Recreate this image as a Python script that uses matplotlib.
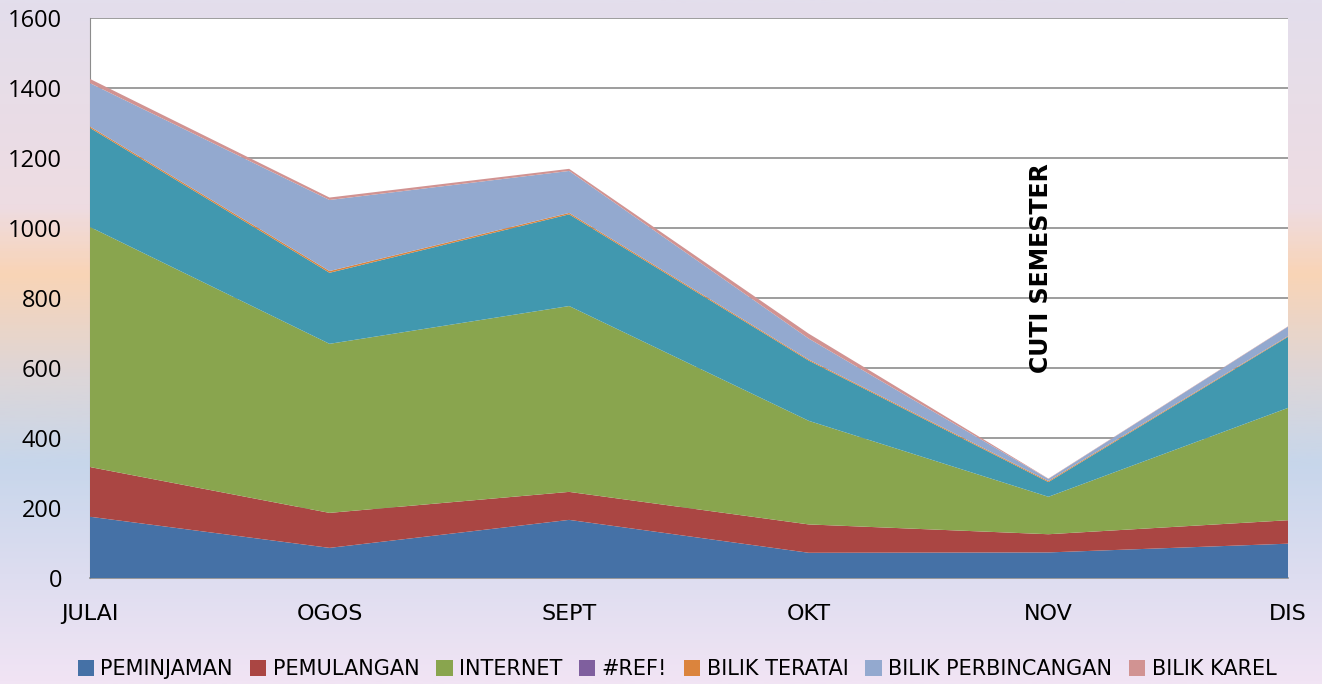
import numpy as np
import matplotlib.pyplot as plt
from matplotlib.colors import LinearSegmentedColormap

# Data
months = ['JULAI', 'OGOS', 'SEPT', 'OKT', 'NOV', 'DIS']
peminjaman = [175, 86, 166, 72, 73, 98]
pemulangan = [142, 100, 80, 81, 52, 67]
internet = [686, 483, 531, 296, 107, 321]
ref_err = [0, 0, 0, 0, 0, 0]
lain = [283, 203, 262, 172, 42, 203]          # teal series, no legend entry
bilik_teratai = [4, 5, 4, 3, 3, 2]
bilik_perbincangan = [124, 203, 120, 60, 6, 27]
bilik_karel = [12, 7, 6, 14, 1, 1]

labels = ['PEMINJAMAN', 'PEMULANGAN', 'INTERNET', '#REF!', '_nolegend_',
          'BILIK TERATAI', 'BILIK PERBINCANGAN', 'BILIK KAREL']
colors = ['#4571A6', '#AA4643', '#89A54E', '#7F5F9E', '#4198AF',
          '#DB843D', '#93A9CF', '#D19392']

fig = plt.figure(figsize=(13.22, 6.84), dpi=100)

# background gradient
bg = fig.add_axes([0, 0, 1, 1], zorder=-10)
stops = [(0.0, '#E3DEEC'), (0.30, '#EEDCE2'), (0.40, '#F9D4B6'),
         (0.55, '#DDD6D8'), (0.68, '#C7D6EB'), (0.84, '#DDDDF0'),
         (1.0, '#F1E4F4')]
cmap = LinearSegmentedColormap.from_list('bg', stops)
bg.imshow(np.linspace(0, 1, 300).reshape(-1, 1), aspect='auto', cmap=cmap,
          extent=[0, 1, 0, 1], origin='upper')
bg.axis('off')

ax = fig.add_axes([0.068, 0.155, 0.9063, 0.8187])
ax.set_facecolor('white')
x = np.arange(len(months))
ax.stackplot(x, peminjaman, pemulangan, internet, ref_err, lain,
             bilik_teratai, bilik_perbincangan, bilik_karel,
             labels=labels, colors=colors, linewidth=0.6,
             edgecolor='none', zorder=3)

ax.set_xlim(0, len(months) - 1)
ax.set_ylim(0, 1600)
ax.set_yticks(np.arange(0, 1601, 200))
ax.set_xticks(x)
ax.set_xticklabels(months, fontsize=16)
ax.tick_params(axis='x', length=0, pad=19)
ax.tick_params(axis='y', length=0, pad=20, labelsize=17,
               labelfontfamily='Open Sans')
ax.yaxis.grid(True, color='#8C8C8C', linewidth=1.2, zorder=1)
ax.set_axisbelow(True)
for s in ['top', 'right']:
    ax.spines[s].set_visible(False)
ax.spines['left'].set_color('#8C8C8C')
ax.spines['bottom'].set_color('#8C8C8C')
ax.spines['bottom'].set_linewidth(1.2)

ax.text(3.97, 885, 'CUTI SEMESTER', rotation=90, ha='center', va='center',
        fontsize=17, fontweight='bold', zorder=5)

leg = ax.legend(loc='upper center', bbox_to_anchor=(0.49, -0.112), ncol=7,
                frameon=False, prop={'size': 15},
                handlelength=0.8, handleheight=0.8, handletextpad=0.3,
                columnspacing=0.8)

fig.savefig('out.png', dpi=100)
